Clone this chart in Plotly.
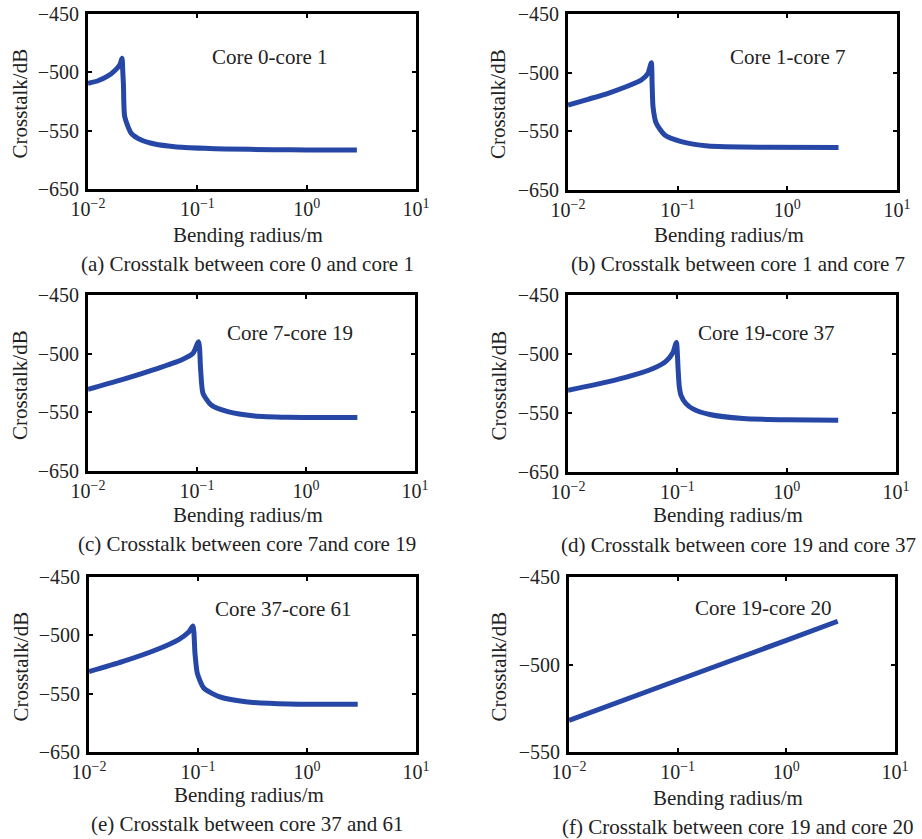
import plotly.graph_objects as go

W, H = 922, 839

# ---------------- data ----------------
x_a = [0.010, 0.01234, 0.01524, 0.01754, 0.0195, 0.02047, 0.0208, 0.0211, 0.02168, 0.0249, 0.0307, 0.0407, 0.0621, 0.1167, 0.178, 0.5, 1.0, 2.88]
y_a = [-509.4, -507.2, -503.1, -498.6, -493.7, -488.0, -499, -511, -538.0, -552.3, -558.0, -561.4, -563.7, -565.1, -565.7, -566.3, -566.5, -566.5]

x_b = [0.010, 0.0152, 0.0232, 0.0352, 0.0466, 0.0537, 0.0575, 0.0585, 0.0596, 0.0638, 0.0762, 0.108, 0.189, 0.667, 2.93]
y_b = [-527.6, -522.7, -517.6, -511.4, -506.3, -500.5, -491.5, -510, -529.0, -543.2, -553.1, -558.8, -562.5, -563.6, -563.8]

x_c = [0.010, 0.0202, 0.0409, 0.0718, 0.0919, 0.1035, 0.108, 0.1135, 0.135, 0.192, 0.338, 0.684, 2.96]
y_c = [-530.4, -522.4, -513.4, -505.4, -499.7, -489.8, -513.9, -533.8, -543.8, -549.4, -553.1, -554.2, -554.5]

x_d = [0.010, 0.0169, 0.0342, 0.060, 0.079, 0.091, 0.098, 0.1015, 0.104, 0.108, 0.120, 0.139, 0.198, 0.40, 1.0, 2.96]
y_d = [-530.7, -526.4, -519.6, -512.3, -506.0, -499.0, -490.2, -512, -527, -535, -542, -546.5, -551.3, -554.7, -555.8, -556.1]

x_e = [0.010, 0.0202, 0.0409, 0.067, 0.0827, 0.0899, 0.0938, 0.0986, 0.1135, 0.156, 0.274, 0.684, 2.92]
y_e = [-531.1, -522.6, -512.6, -503.4, -496.9, -492.0, -515.4, -532.6, -545.4, -552.6, -556.9, -558.9, -559.0]

x_f = [0.010, 0.1, 1.0, 2.97]
y_f = [-531.9, -509.0, -486.2, -475.3]

pair_labels = ["Core 0-core 1", "Core 1-core 7", "Core 7-core 19",
               "Core 19-core 37", "Core 37-core 61", "Core 19-core 20"]
captions = ["(a) Crosstalk between core 0 and core 1",
            "(b) Crosstalk between core 1 and core 7",
            "(c) Crosstalk between core 7and core 19",
            "(d) Crosstalk between core 19 and core 37",
            "(e) Crosstalk between core 37 and 61",
            "(f) Crosstalk between core 19 and core 20"]

x_tickvals = [0.01, 0.1, 1, 10]
x_ticktext = ["10<sup>\u22122</sup>", "10<sup>\u22121</sup>", "10<sup>0</sup>", "10<sup>1</sup>"]
y_tickvals_main = [-450, -500, -550, -600]
y_ticktext_main = ["\u2212450", "\u2212500", "\u2212550", "\u2212650"]
y_tickvals_f = [-450, -500, -550]
y_ticktext_f = ["\u2212450", "\u2212500", "\u2212550"]

xs = [x_a, x_b, x_c, x_d, x_e, x_f]
ys = [y_a, y_b, y_c, y_d, y_e, y_f]

# ---------------- layout geometry (pixels) ----------------
boxes = [(88, 416, 14, 189), (568, 897, 14, 190),
         (88, 415, 295, 471), (568, 896, 295, 472),
         (89, 416, 577, 752), (569, 895, 577, 752)]
label_pos = [(269, 57), (787, 57), (290, 333), (766, 333), (283, 609), (763, 608)]
xtitle_y = [235, 235, 515, 515, 795, 798]
ytitle_x = [20, 498, 20, 498, 20, 498]
caption_pos = [(247, 264), (738, 264), (247, 544), (738, 545), (247, 824), (738, 827)]

FONT = "Liberation Serif, Times New Roman, serif"
FS = 21
TXT = "#222222"
LINE_COLOR = "#2747a6"

fig = go.Figure()
annotations = []

def px_x(p):
    return p / W

def px_y(p):
    return 1 - p / H

for i in range(6):
    n = "" if i == 0 else str(i + 1)
    l, r, t, b = boxes[i]
    fig.add_trace(go.Scatter(x=xs[i], y=ys[i], mode="lines",
                             line=dict(color=LINE_COLOR, width=5, shape="spline", smoothing=0.6),
                             xaxis="x" + n, yaxis="y" + n, showlegend=False,
                             hoverinfo="skip"))
    axis_common = dict(showline=True, linewidth=3, linecolor="black", mirror="ticks",
                       ticks="inside", ticklen=4, tickwidth=2, tickcolor="black",
                       showgrid=False, zeroline=False, automargin=False,
                       tickfont=dict(family=FONT, size=20, color=TXT))
    fig.update_layout(**{
        "xaxis" + n: dict(type="log", range=[-2, 1], domain=[px_x(l), px_x(r)],
                          anchor="y" + n, tickvals=x_tickvals, ticktext=x_ticktext,
                          **axis_common),
        "yaxis" + n: dict(range=[-600, -450] if i < 5 else [-550, -450],
                          domain=[px_y(b), px_y(t)], anchor="x" + n,
                          tickvals=y_tickvals_main if i < 5 else y_tickvals_f,
                          ticktext=y_ticktext_main if i < 5 else y_ticktext_f,
                          ticklabelstandoff=2,
                          **axis_common),
    })
    annotations.append(dict(text=pair_labels[i], x=px_x(label_pos[i][0]), y=px_y(label_pos[i][1]),
                            xref="paper", yref="paper", showarrow=False,
                            xanchor="center", yanchor="middle",
                            font=dict(family=FONT, size=FS, color=TXT)))
    annotations.append(dict(text="Bending radius/m", x=px_x((l + r) / 2 - 4), y=px_y(xtitle_y[i]),
                            xref="paper", yref="paper", showarrow=False,
                            xanchor="center", yanchor="middle",
                            font=dict(family=FONT, size=FS, color=TXT)))
    annotations.append(dict(text="Crosstalk/dB", x=px_x(ytitle_x[i]), y=px_y((t + b) / 2 + 2),
                            xref="paper", yref="paper", showarrow=False, textangle=-90,
                            xanchor="center", yanchor="middle",
                            font=dict(family=FONT, size=FS, color=TXT)))
    annotations.append(dict(text=captions[i], x=px_x(caption_pos[i][0]), y=px_y(caption_pos[i][1]),
                            xref="paper", yref="paper", showarrow=False,
                            xanchor="center", yanchor="middle",
                            font=dict(family=FONT, size=FS, color=TXT)))

fig.update_layout(width=W, height=H, margin=dict(l=0, r=0, t=0, b=0),
                  paper_bgcolor="white", plot_bgcolor="white",
                  annotations=annotations)

fig.write_html("out.html")
